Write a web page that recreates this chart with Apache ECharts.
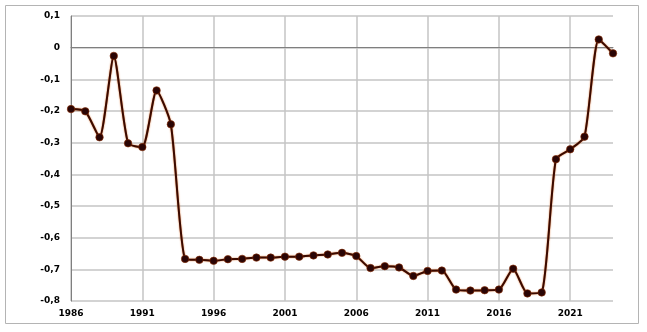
<!DOCTYPE html>
<html>
<head>
<meta charset="utf-8">
<script src="https://cdn.jsdelivr.net/npm/echarts@6/dist/echarts.min.js"></script>
<style>
html,body{margin:0;padding:0;background:#fff;}
#c{width:647px;height:332px;}
</style>
</head>
<body>
<div id="c"></div>
<script>
var years = [];
for (var y = 1986; y <= 2024; y++) years.push(String(y));
var values = [
  -0.194, -0.201, -0.283, -0.026, -0.302, -0.314, -0.135, -0.242, -0.667, -0.670,
  -0.673, -0.668, -0.667, -0.663, -0.663, -0.660, -0.660, -0.656, -0.653, -0.648,
  -0.658, -0.696, -0.690, -0.694, -0.721, -0.705, -0.704, -0.764, -0.767, -0.766,
  -0.764, -0.698, -0.776, -0.773, -0.352, -0.321, -0.281, 0.026, -0.018
];
var yMin = -0.8, yMax = 0.1, yStep = 0.1;

var chart = echarts.init(document.getElementById('c'), null, {renderer: 'canvas'});
var labelFont = {color: '#000', fontFamily: 'DejaVu Sans', fontSize: 9, fontWeight: 'bold'};
chart.setOption({
  animation: false,
  backgroundColor: '#fff',
  graphic: [{
    type: 'rect',
    shape: {x: 5.5, y: 5.5, width: 633, height: 318},
    style: {fill: 'none', stroke: '#b4b4b4', lineWidth: 1},
    z: -1
  }],
  grid: {left: 71, right: 34, top: 16, bottom: 31},
  xAxis: {
    type: 'category',
    data: years,
    boundaryGap: false,
    axisLine: {lineStyle: {color: '#7f7f7f', width: 1}},
    axisTick: {show: false},
    axisLabel: Object.assign({interval: 4, margin: 8}, labelFont),
    splitLine: {show: true, interval: 4, lineStyle: {color: '#c4c4c4', width: 1.5}}
  },
  yAxis: {
    type: 'value',
    min: yMin, max: yMax, interval: yStep,
    axisLine: {show: true, lineStyle: {color: '#7f7f7f', width: 1}},
    axisTick: {show: false},
    axisLabel: Object.assign({
      margin: 11,
      formatter: function (v) {
        if (Math.abs(v) < 1e-9) return '0';
        return v.toFixed(1).replace('.', ',');
      }
    }, labelFont),
    splitLine: {lineStyle: {color: '#c4c4c4', width: 1.5}}
  },
  series: [{
    type: 'line',
    data: values,
    smooth: 0.2,
    symbol: 'circle',
    symbolSize: 7.5,
    itemStyle: {color: '#2a0505', borderColor: '#8a2a00', borderWidth: 0.6},
    lineStyle: {color: '#3a0a00', width: 2, shadowColor: '#d05a10', shadowBlur: 1.5}
  }]
});
</script>
</body>
</html>
